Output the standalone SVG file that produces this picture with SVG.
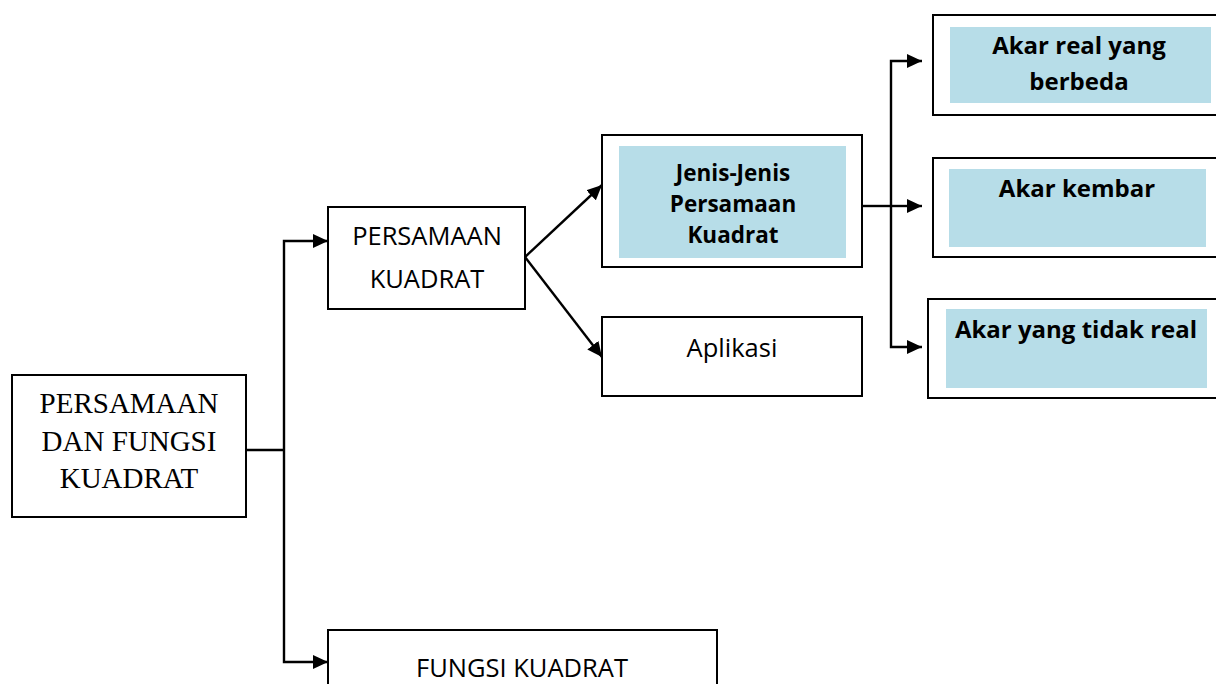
<svg xmlns="http://www.w3.org/2000/svg" width="1216" height="684" viewBox="0 0 1216 684">
<style>
.box{fill:#fff;stroke:#000;stroke-width:2}
.fill{fill:#b7dde8}
.serif{font-family:"Liberation Serif",serif;font-size:29px;fill:#000;text-anchor:middle}
.sans{font-family:"Open Sans","Noto Sans",sans-serif;font-size:25.5px;fill:#000;text-anchor:middle}
.bold{font-family:"Open Sans","Noto Sans",sans-serif;font-size:24px;font-weight:bold;fill:#000;text-anchor:middle}
.bold2{font-family:"Open Sans","Noto Sans",sans-serif;font-size:22.5px;font-weight:bold;fill:#000;text-anchor:middle}
.con{fill:none;stroke:#000;stroke-width:2.4}
</style>
<defs>
<marker id="arr" viewBox="0 0 15 14" refX="15" refY="7" markerWidth="15" markerHeight="14" markerUnits="userSpaceOnUse" orient="auto">
<path d="M0,0 L15,7 L0,14 z" fill="#000"/>
</marker>
</defs>
<g id="connectors">
<polyline class="con" points="247,450 284,450"/>
<polyline class="con" points="284,450 284,241 328,241" marker-end="url(#arr)"/>
<polyline class="con" points="284,450 284,662 328,662" marker-end="url(#arr)"/>
<line class="con" x1="525" y1="257" x2="602" y2="185" marker-end="url(#arr)"/>
<line class="con" x1="525" y1="257" x2="602" y2="357" marker-end="url(#arr)"/>
<polyline class="con" points="862,206 890,206"/>
<polyline class="con" points="891,206 891,61 922,61" marker-end="url(#arr)"/>
<polyline class="con" points="891,206 922,206" marker-end="url(#arr)"/>
<polyline class="con" points="891,206 891,347 922,347" marker-end="url(#arr)"/>
</g>
<g id="node-root">
<rect class="box" x="12" y="375" width="234" height="142"/>
<text class="serif" x="129" y="413">PERSAMAAN</text>
<text class="serif" x="129" y="451">DAN FUNGSI</text>
<text class="serif" x="129" y="488">KUADRAT</text>
</g>
<g id="node-persamaan">
<rect class="box" x="328" y="207" width="197" height="102"/>
<text class="sans" x="427" y="245">PERSAMAAN</text>
<text class="sans" x="427" y="288">KUADRAT</text>
</g>
<g id="node-jenis">
<rect class="box" x="602" y="135" width="260" height="132"/>
<rect class="fill" x="619" y="146" width="227" height="112"/>
<text class="bold2" x="733" y="181">Jenis-Jenis</text>
<text class="bold2" x="733" y="212">Persamaan</text>
<text class="bold2" x="733" y="243">Kuadrat</text>
</g>
<g id="node-aplikasi">
<rect class="box" x="602" y="317" width="260" height="79"/>
<text class="sans" x="732" y="357">Aplikasi</text>
</g>
<g id="node-akar-real">
<rect class="box" x="933" y="15" width="290" height="100"/>
<rect class="fill" x="950" y="27" width="261" height="76"/>
<text class="bold" x="1079" y="54">Akar real yang</text>
<text class="bold" x="1079" y="90">berbeda</text>
</g>
<g id="node-akar-kembar">
<rect class="box" x="933" y="158" width="290" height="99"/>
<rect class="fill" x="949" y="169" width="257" height="78"/>
<text class="bold" x="1077" y="197">Akar kembar</text>
</g>
<g id="node-akar-tidak">
<rect class="box" x="928" y="299" width="295" height="99"/>
<rect class="fill" x="946" y="309" width="261" height="79"/>
<text class="bold" x="1076" y="338">Akar yang tidak real</text>
</g>
<g id="node-fungsi">
<rect class="box" x="328" y="630" width="389" height="60"/>
<text class="sans" x="522" y="677">FUNGSI KUADRAT</text>
</g>
</svg>
